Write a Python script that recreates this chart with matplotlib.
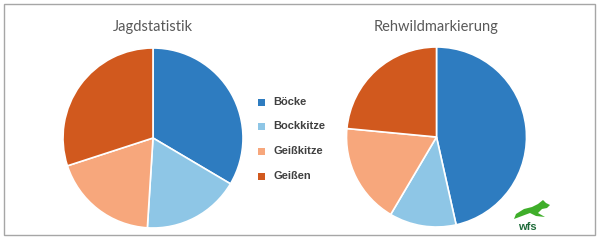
import matplotlib.pyplot as plt
from matplotlib.patches import Rectangle, Polygon

# data (shares in percent)
categories = ['Böcke', 'Bockkitze', 'Geißkitze', 'Geißen']
jagd = [33.5, 17.5, 19.0, 30.0]
markierung = [46.5, 12.0, 18.0, 23.5]
titles = ['Jagdstatistik', 'Rehwildmarkierung']
colors = ['#2e7cc0', '#8ec6e6', '#f7a77c', '#d1591e']

W, H = 600, 248
fig = plt.figure(figsize=(6.0, 2.48), dpi=100)
fig.patch.set_facecolor('white')

# outer frame
fig.patches.append(Rectangle((4 / W, 13 / H), 591 / W, 231 / H, transform=fig.transFigure,
                             fill=False, edgecolor='#a6a6a6', linewidth=1.0))


def draw_pie(cx, cy, r, values, title):
    ax = fig.add_axes([(cx - r) / W, (H - cy - r) / H, 2 * r / W, 2 * r / H])
    ax.pie(values, colors=colors, startangle=90, counterclock=False,
           wedgeprops=dict(edgecolor='white', linewidth=1.2))
    ax.set_xlim(-1, 1)
    ax.set_ylim(-1, 1)
    ax.set_aspect('auto')
    ax.axis('off')
    fig.text(cx / W, 1 - 27 / H, title, ha='center', va='center',
             fontsize=10.5, color='#595959', family='Lato')
    return ax


draw_pie(153, 138, 90, jagd, titles[0])
draw_pie(436.5, 137, 90, markierung, titles[1])

# legend
leg_y = [102, 126, 151, 176]
for name, col, y in zip(categories, colors, leg_y):
    fig.patches.append(Rectangle((258 / W, (H - y - 3.5) / H), 7 / W, 7 / H,
                                 transform=fig.transFigure, facecolor=col, edgecolor='none'))
    fig.text(273 / W, 1 - y / H, name, ha='left', va='center', fontsize=8,
             fontweight='bold', color='#404040', family='Liberation Sans')

# small wfs logo
hare = [(516, 214), (524, 209), (532, 207), (538, 204), (543, 200), (546, 203),
        (550, 205), (547, 208), (542, 209), (538, 213), (545, 217), (536, 216),
        (530, 213), (522, 216), (514, 219)]
fig.patches.append(Polygon([(x / W, 1 - y / H) for x, y in hare], closed=True,
                           transform=fig.transFigure, facecolor='#3fae2a', edgecolor='none'))
fig.text(527 / W, 1 - 227 / H, 'wfs', ha='center', va='center', fontsize=8,
         fontweight='bold', color='#1e6b3a', family='Liberation Sans')

fig.savefig('out.png', dpi=100)
